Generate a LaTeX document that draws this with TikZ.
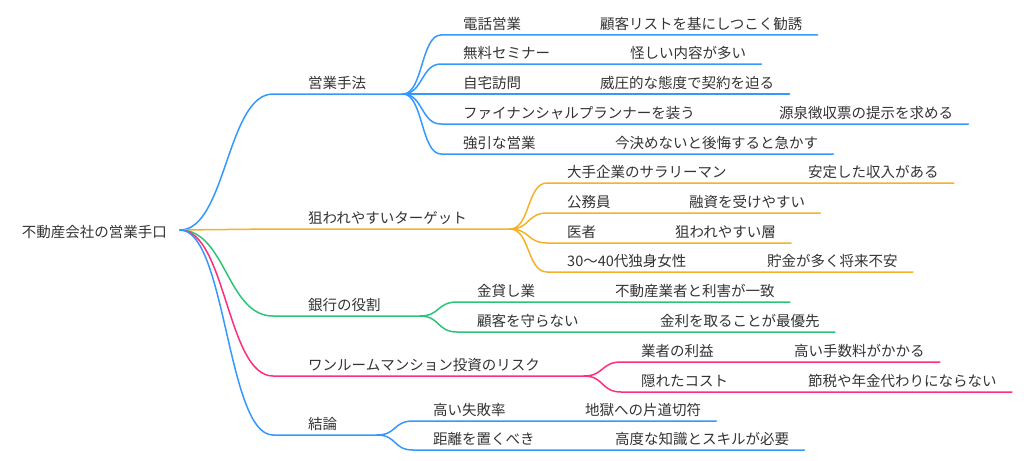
\documentclass[tikz,border=0pt]{standalone}
\usepackage{fontspec}
\newfontfamily\jp{Noto Sans CJK JP}
\definecolor{mmblue}{RGB}{51,153,255}
\definecolor{mmorange}{RGB}{245,177,40}
\definecolor{mmgreen}{RGB}{45,196,122}
\definecolor{mmpink}{RGB}{255,45,125}
\definecolor{txtgray}{RGB}{51,51,51}
\tikzset{
  txt/.style={font=\jp\fontsize{14.5}{17}\selectfont, text=txtgray, anchor=base west, inner sep=0pt},
  br/.style={line width=1.5pt, line cap=round},
}
\begin{document}
\begin{tikzpicture}[x=1pt,y=-1pt]
\useasboundingbox (0,0) rectangle (1024,460);

% root
\coordinate (rootB) at (180,230);
\node[txt, anchor=base east] (root) at (167,237) {不動産会社の営業手口};

% main branches
\node[txt] (sales)  at (308,88.5)  {営業手法};
\node[txt] (target) at (308,223.5) {狙われやすいターゲット};
\node[txt] (bank)   at (308,310.5) {銀行の役割};
\node[txt] (risk)   at (308,370.5) {ワンルームマンション投資のリスク};
\node[txt] (concl)  at (308,429.5) {結論};
\coordinate (salesB)  at (403,94);
\coordinate (targetB) at (510,229);
\coordinate (bankB)   at (420,316);
\coordinate (riskB)   at (584,376);
\coordinate (conclB)  at (377,435);

\draw[br,mmblue]   (rootB) .. controls +(46,0) and +(-46,0) .. ([shift={(-35,5.5)}]sales.base west) -- (salesB);
\draw[br,mmorange] (rootB) .. controls +(46,0) and +(-46,0) .. ([shift={(-35,5.5)}]target.base west) -- (targetB);
\draw[br,mmgreen]  (rootB) .. controls +(46,0) and +(-46,0) .. ([shift={(-35,5.5)}]bank.base west) -- (bankB);
\draw[br,mmpink]   (rootB) .. controls +(46,0) and +(-46,0) .. ([shift={(-35,5.5)}]risk.base west) -- (riskB);
\draw[br,mmblue]   (rootB) .. controls +(46,0) and +(-46,0) .. ([shift={(-35,5.5)}]concl.base west) -- (conclB);

% sales methods
\node[txt] (tel)    at (463,29.5)  {電話営業};
\node[txt] (telx)   at (600,29.5)  {顧客リストを基にしつこく勧誘};
\node[txt] (sem)    at (463,58.5)  {無料セミナー};
\node[txt] (semx)   at (630,58.5)  {怪しい内容が多い};
\node[txt] (visit)  at (463,88.5)  {自宅訪問};
\node[txt] (visitx) at (600,88.5)  {威圧的な態度で契約を迫る};
\node[txt] (fp)     at (463,118.5) {ファイナンシャルプランナーを装う};
\node[txt] (fpx)    at (779,118.5) {源泉徴収票の提示を求める};
\node[txt] (push)   at (463,148.5) {強引な営業};
\node[txt] (pushx)  at (615,148.5) {今決めないと後悔すると急かす};
\draw[br,mmblue] (salesB) .. controls +(20,0) and +(-20,0) .. ([shift={(-22,5.5)}]tel.base west) -- ([shift={(15,5.5)}]telx.base east);
\draw[br,mmblue] (salesB) .. controls +(20,0) and +(-20,0) .. ([shift={(-22,5.5)}]sem.base west) -- ([shift={(15,5.5)}]semx.base east);
\draw[br,mmblue] (salesB) -- ([shift={(15,5.5)}]visitx.base east);
\draw[br,mmblue] (salesB) .. controls +(20,0) and +(-20,0) .. ([shift={(-22,5.5)}]fp.base west) -- ([shift={(15,5.5)}]fpx.base east);
\draw[br,mmblue] (salesB) .. controls +(20,0) and +(-20,0) .. ([shift={(-22,5.5)}]push.base west) -- ([shift={(15,5.5)}]pushx.base east);

% targets
\node[txt] (big)     at (567,177.5) {大手企業のサラリーマン};
\node[txt] (bigx)    at (808,177.5) {安定した収入がある};
\node[txt] (civil)   at (567,207.5) {公務員};
\node[txt] (civilx)  at (689,207.5) {融資を受けやすい};
\node[txt] (doc)     at (567,237.5) {医者};
\node[txt] (docx)    at (675,237.5) {狙われやすい層};
\node[txt] (single)  at (567,266.5) {30〜40代独身女性};
\node[txt] (singlex) at (767,266.5) {貯金が多く将来不安};
\draw[br,mmorange] (targetB) .. controls +(20,0) and +(-20,0) .. ([shift={(-20,5.5)}]big.base west) -- ([shift={(15,5.5)}]bigx.base east);
\draw[br,mmorange] (targetB) .. controls +(20,0) and +(-20,0) .. ([shift={(-20,5.5)}]civil.base west) -- ([shift={(15,5.5)}]civilx.base east);
\draw[br,mmorange] (targetB) .. controls +(20,0) and +(-20,0) .. ([shift={(-20,5.5)}]doc.base west) -- ([shift={(15,5.5)}]docx.base east);
\draw[br,mmorange] (targetB) .. controls +(20,0) and +(-20,0) .. ([shift={(-20,5.5)}]single.base west) -- ([shift={(15,5.5)}]singlex.base east);

% banks
\node[txt] (lend)    at (477,296.5) {金貸し業};
\node[txt] (lendx)   at (615,296.5) {不動産業者と利害が一致};
\node[txt] (nocare)  at (477,326.5) {顧客を守らない};
\node[txt] (nocarex) at (660,326.5) {金利を取ることが最優先};
\draw[br,mmgreen] (bankB) .. controls +(20,0) and +(-20,0) .. ([shift={(-20,5.5)}]lend.base west) -- ([shift={(15,5.5)}]lendx.base east);
\draw[br,mmgreen] (bankB) .. controls +(20,0) and +(-20,0) .. ([shift={(-20,5.5)}]nocare.base west) -- ([shift={(15,5.5)}]nocarex.base east);

% risks
\node[txt] (profit)  at (641,356.5) {業者の利益};
\node[txt] (profitx) at (794,356.5) {高い手数料がかかる};
\node[txt] (hidden)  at (641,386.5) {隠れたコスト};
\node[txt] (hiddenx) at (808,386.5) {節税や年金代わりにならない};
\draw[br,mmpink] (riskB) .. controls +(20,0) and +(-20,0) .. ([shift={(-20,5.5)}]profit.base west) -- ([shift={(15,5.5)}]profitx.base east);
\draw[br,mmpink] (riskB) .. controls +(20,0) and +(-20,0) .. ([shift={(-20,5.5)}]hidden.base west) -- ([shift={(15,5.5)}]hiddenx.base east);

% conclusion
\node[txt] (fail)  at (433,415.5) {高い失敗率};
\node[txt] (failx) at (585,415.5) {地獄への片道切符};
\node[txt] (away)  at (433,444.5) {距離を置くべき};
\node[txt] (awayx) at (615,444.5) {高度な知識とスキルが必要};
\draw[br,mmblue] (conclB) .. controls +(20,0) and +(-20,0) .. ([shift={(-20,5.5)}]fail.base west) -- ([shift={(15,5.5)}]failx.base east);
\draw[br,mmblue] (conclB) .. controls +(20,0) and +(-20,0) .. ([shift={(-20,5.5)}]away.base west) -- ([shift={(15,5.5)}]awayx.base east);

\end{tikzpicture}
\end{document}
